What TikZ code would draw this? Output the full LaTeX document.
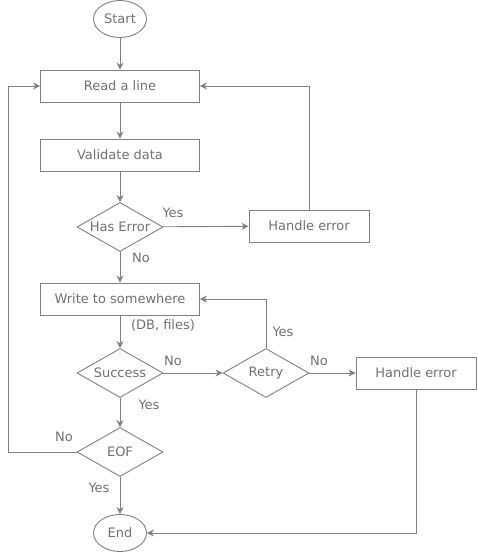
\documentclass[tikz,border=0pt]{standalone}
\usepackage{fontspec}
\setmainfont{DejaVu Sans}
\usepackage{tikz}
\usetikzlibrary{arrows.meta,shapes.geometric}
\definecolor{linegray}{HTML}{808080}
\definecolor{textgray}{HTML}{707070}

\begin{document}
\begin{tikzpicture}[x=1pt,y=-1pt,font=\fontsize{13}{15}\selectfont,
   every node/.style={text=textgray},
   box/.style={draw=linegray,line width=0.9pt,minimum width=159,minimum height=32,inner sep=0pt},
   ebox/.style={box,minimum width=120},
   term/.style={draw=linegray,line width=0.9pt,ellipse,minimum width=53,minimum height=37,inner sep=0pt},
   test/.style={draw=linegray,line width=0.9pt,diamond,aspect=1.8,minimum width=86,minimum height=49,inner sep=0pt},
   arr/.style={draw=linegray,line width=0.9pt,-{Stealth[length=7pt,width=7pt]}},
   lbl/.style={inner sep=1pt}]
\useasboundingbox (0,0) rectangle (477,554);
% main column
\node[term] (start) at (120,19) {Start};
\node[box] (read) at (120,86) {Read a line};
\node[box] (valid) at (120,155) {Validate data};
\node[test] (haserr) at (120,227) {Has Error};
\node[box] (write) at (120,299) {Write to somewhere};
\node[test] (succ) at (120,373) {Success};
\node[test] (eof) at (120,452) {EOF};
\node[term] (end) at (120,533) {End};
% side boxes
\node[ebox] (herr1) at (309,226) {Handle error};
\node[test] (retry) at (266,373) {Retry};
\node[ebox] (herr2) at (416,373) {Handle error};
\coordinate (back) at (8,452);
% connectors
\draw[arr] (start) -- (read);
\draw[arr] (read) -- (valid);
\draw[arr] (valid) -- (haserr);
\draw[arr] (haserr) -- (herr1);
\draw[arr] (herr1.north) |- (read.east);
\draw[arr] (haserr) -- (write);
\draw[arr] (write) -- (succ);
\draw[arr] (succ) -- (retry);
\draw[arr] (retry) -- (herr2);
\draw[arr] (retry.north) |- (write.east);
\draw[arr] (succ) -- (eof);
\draw[arr] (eof.west) -- (back) |- (read.west);
\draw[arr] (eof) -- (end);
\draw[arr] (herr2.south) |- (end.east);
% labels
\node[lbl] (l1) at (173,213) {Yes};
\node[lbl] (l2) at (141,258) {No};
\node[lbl] (l3) at (163,325) {(DB, files)};
\node[lbl] (l4) at (173,361) {No};
\node[lbl] (l5) at (283,332) {Yes};
\node[lbl] (l6) at (319,361) {No};
\node[lbl] (l7) at (149,405) {Yes};
\node[lbl] (l8) at (64,437) {No};
\node[lbl] (l9) at (99,488) {Yes};
\end{tikzpicture}
\end{document}
